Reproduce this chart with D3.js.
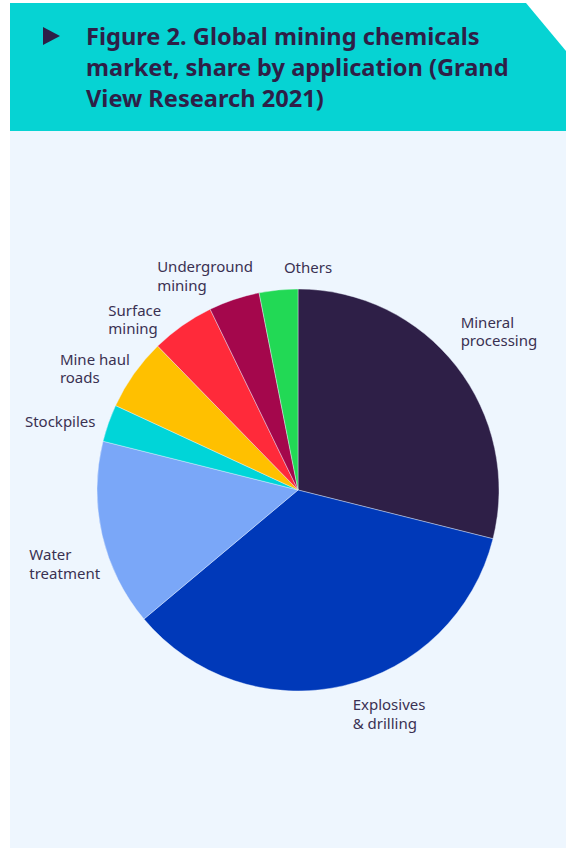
<!DOCTYPE html>
<html>
<head>
<meta charset="utf-8">
<script src="https://cdn.jsdelivr.net/npm/d3@7"></script>
<style>
  body { margin: 0; background: #fff; }
  svg { display: block; font-family: 'Noto Sans', sans-serif; }
</style>
</head>
<body>
<svg id="chart" width="566" height="850"></svg>
<script>
// share by application, %
const categories = ['Mineral processing', 'Explosives & drilling', 'Water treatment', 'Stockpiles',
  'Mine haul roads', 'Surface mining', 'Underground mining', 'Others']
const shares = [28.9, 35.0, 15.0, 3.0, 5.8, 5.1, 4.1, 3.1]
// how each label wraps
const labelLines = [
  ['Mineral', 'processing'],
  ['Explosives', '& drilling'],
  ['Water', 'treatment'],
  ['Stockpiles'],
  ['Mine haul', 'roads'],
  ['Surface', 'mining'],
  ['Underground', 'mining'],
  ['Others']
]
const colors = ['#2e1f47', '#0039b9', '#7aa7f8', '#00d5d8', '#ffc000', '#ff2a3a', '#a4074c', '#22d955']

// label block centres, polar (degrees clockwise from top, radius)
const labelPolar = [[52, 255], [158, 243], [252, 245], [285.7, 247], [300.6, 236], [316, 235], [336.4, 232], [2.6, 221]]

const svg = d3.select('#chart')

// header and panel
svg.append('rect')
  .attr('x', 10).attr('y', 131).attr('width', 556).attr('height', 717)
  .attr('fill', '#eef6fe')

svg.append('path')
  .attr('d', 'M10,3 L526,3 L566,51 L566,131 L10,131 Z')
  .attr('fill', '#06d3d3')

svg.append('path')
  .attr('d', 'M43,27 L60,36 L43,45 Z')
  .attr('fill', '#2e1f47')

const title = ['Figure 2. Global mining chemicals', 'market, share by application (Grand', 'View Research 2021)']
svg.append('text')
  .attr('fill', '#2e1f47')
  .attr('font-size', 23.6)
  .attr('font-weight', 700)
  .selectAll('tspan')
  .data(title)
  .join('tspan')
  .attr('x', 86)
  .attr('y', (d, i) => 45 + i * 31)
  .text(d => d)

// pie
const cx = 298, cy = 490, radius = 201
const g = svg.append('g').attr('transform', `translate(${cx},${cy})`)

const pie = d3.pie().sort(null).value(d => d)
const arcs = pie(shares)
const arc = d3.arc().innerRadius(0).outerRadius(radius)

g.selectAll('path')
  .data(arcs)
  .join('path')
  .attr('d', arc)
  .attr('fill', (d, i) => colors[i])
  .attr('stroke', '#eef6fe')
  .attr('stroke-width', 0.4)

// labels
const labels = g.selectAll('g.label')
  .data(arcs)
  .join('g')
  .attr('class', 'label')

labels.each(function (d, i) {
  const t = d3.select(this).append('text')
    .attr('fill', '#3a3152')
    .attr('font-size', 15)
  t.selectAll('tspan')
    .data(labelLines[i])
    .join('tspan')
    .attr('x', 0)
    .attr('y', (s, j) => j * 18.5)
    .text(s => s)
  const box = this.getBBox()
  const [px, py] = d3.pointRadial(labelPolar[i][0] * Math.PI / 180, labelPolar[i][1])
  d3.select(this).attr('transform',
    `translate(${px - box.x - box.width / 2},${py - box.y - box.height / 2 - 2})`)
})
</script>
</body>
</html>
